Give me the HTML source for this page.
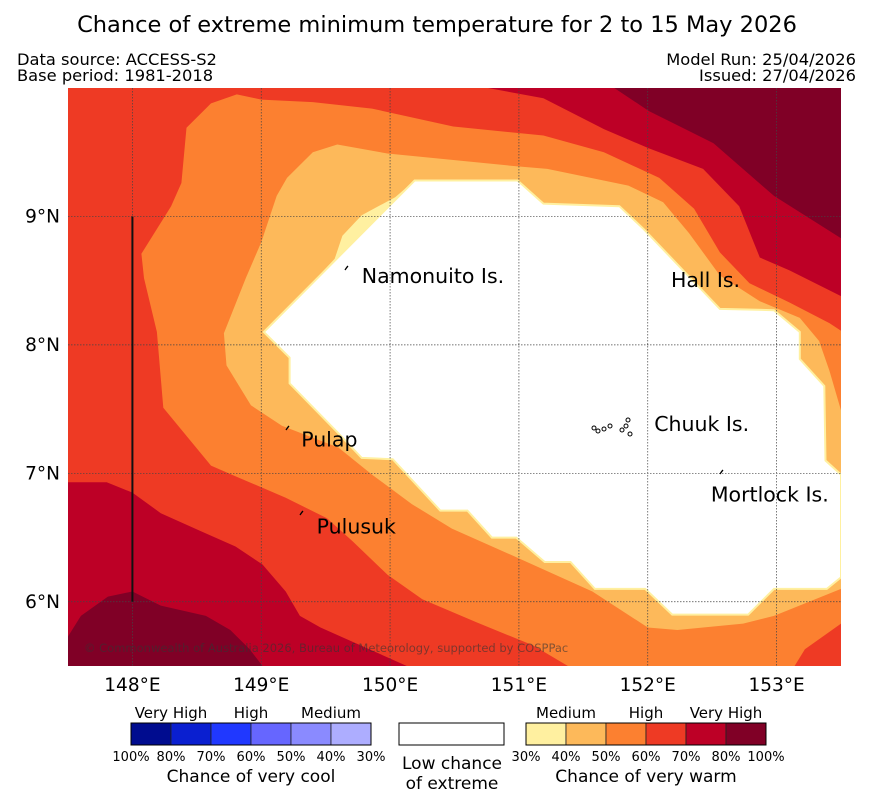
<!DOCTYPE html>
<html><head><meta charset="utf-8">
<style>
body{margin:0;background:#fff;font-family:"Liberation Sans","DejaVu Sans",sans-serif;}
svg{display:block}
text{font-family:"DejaVu Sans","Liberation Sans",sans-serif;}
</style></head>
<body>
<svg id="chart" width="873" height="804" viewBox="0 0 873 804">
<text x="437" y="32" text-anchor="middle" font-size="22.5">Chance of extreme minimum temperature for 2 to 15 May 2026</text>
<text x="17" y="65" font-size="16.3">Data source: ACCESS-S2</text>
<text x="17" y="81" font-size="16.3">Base period: 1981-2018</text>
<text x="856" y="65" font-size="16.3" text-anchor="end">Model Run: 25/04/2026</text>
<text x="856" y="81" font-size="16.3" text-anchor="end">Issued: 27/04/2026</text>
<defs><clipPath id="mapclip"><rect x="68" y="88" width="773" height="578"/></clipPath></defs>
<g id="map" clip-path="url(#mapclip)">
<rect x="68" y="88" width="773" height="578" fill="#ee3a24"/>
</g>
<g id="grid"></g>
<g id="axes"></g>
<g id="labels"></g>
<text x="84" y="652" font-size="11.5" fill="#333" fill-opacity="0.6">© Commonwealth of Australia 2026, Bureau of Meteorology, supported by COSPPac</text>
<g id="legend"></g>
</svg>
<script>
const lonMin=147.5, lonMax=153.5, latMin=5.5, latMax=10.0;
const lonTicks=[148,149,150,151,152,153];
const latTicks=[6,7,8,9];
const contourLevels=['70-80','80-100','70-80','80-100','50-60','40-50','30-40','low','60-70'];
const contourColors=['#bd0026','#800026','#bd0026','#800026','#fc8030','#fdb95a','#fff0a0','#ffffff','#ee3a24'];
const crimsonTop=[[150.76,10],[151.19,9.92],[151.66,9.68],[152.01,9.53],[152.43,9.37],[152.71,9.08],[152.87,8.68],[153.10,8.58],[153.5,8.38],[153.5,10]];
const maroonTop=[[151.74,10],[152.01,9.82],[152.51,9.57],[152.98,9.16],[153.5,8.83],[153.5,10]];
const crimsonBottom=[[147.5,6.93],[147.80,6.93],[148.0,6.85],[148.22,6.69],[148.53,6.55],[148.80,6.43],[149.01,6.29],[149.19,6.08],[149.30,5.89],[149.46,5.80],[150.13,5.5],[147.5,5.5]];
const maroonBottom=[[147.5,5.73],[147.60,5.89],[147.81,6.04],[148.0,6.08],[148.22,5.97],[148.57,5.89],[148.76,5.78],[148.91,5.63],[149.01,5.5],[147.5,5.5]];
const orange=[[148.42,9.69],[148.61,9.88],[148.81,9.95],[149.0,9.91],[149.40,9.89],[149.86,9.84],[150.49,9.70],[151.19,9.63],[151.66,9.50],[152.09,9.30],[152.36,9.06],[152.56,8.72],[152.79,8.48],[153.10,8.33],[153.41,8.17],[153.5,8.11],[153.5,5.5],[151.38,5.5],[151.11,5.66],[150.67,5.84],[150.25,6.02],[149.98,6.21],[149.71,6.47],[149.51,6.65],[149.19,6.81],[148.77,6.99],[148.61,7.06],[148.24,7.51],[148.19,8.10],[148.09,8.52],[148.07,8.71],[148.30,9.08],[148.38,9.26]];
const lightOrange=[[149.20,9.30],[149.40,9.50],[149.59,9.56],[149.98,9.49],[150.99,9.39],[151.22,9.37],[151.85,9.24],[152.12,9.11],[152.32,8.87],[152.56,8.54],[152.87,8.34],[153.18,8.21],[153.33,8.03],[153.41,7.80],[153.5,7.49],[153.5,6.10],[152.98,5.89],[152.74,5.83],[152.23,5.78],[152.0,5.80],[151.57,6.08],[150.95,6.36],[150.48,6.57],[150.17,6.76],[149.86,6.99],[149.60,7.20],[149.16,7.37],[148.92,7.53],[148.73,7.84],[148.71,8.09],[148.88,8.52],[149.0,8.80],[149.12,9.16]];
const paleYellow=[[150.19,9.28],[150.04,9.15],[149.78,9.01],[149.63,8.85],[149.57,8.67],[149.44,8.53]];
const whiteArea=[[150.19,9.28],[150.99,9.28],[151.19,9.10],[151.78,9.08],[151.97,8.90],[152.56,8.28],[152.98,8.27],[153.18,8.10],[153.18,7.89],[153.37,7.68],[153.38,7.10],[153.5,6.99],[153.5,6.19],[153.39,6.10],[152.98,6.10],[152.78,5.90],[152.19,5.90],[151.98,6.10],[151.59,6.10],[151.40,6.31],[151.20,6.31],[150.98,6.50],[150.79,6.50],[150.60,6.71],[150.39,6.71],[150.02,7.11],[149.78,7.12],[149.59,7.32],[149.22,7.70],[149.22,7.90],[149.02,8.10]];
const redBottomRight=[[153.5,5.83],[153.22,5.63],[153.14,5.5],[153.5,5.5]];
const islandNames=['Namonuito Is.','Hall Is.','Chuuk Is.','Pulap','Mortlock Is.','Pulusuk'];
const islandLon=[149.78,152.18,152.05,149.31,152.49,149.43];
const islandLat=[8.48,8.45,7.33,7.21,6.78,6.53];
const legendWarmLabels=['30%','40%','50%','60%','70%','80%','100%'];
const legendCoolLabels=['100%','80%','70%','60%','50%','40%','30%'];
const warmColors=['#fff0a0','#fdb95a','#fc8030','#ee3a24','#bd0026','#800026'];
const coolColors=['#000c8f','#0a1fd0','#2038ff','#6666ff','#8a8aff','#adadff'];

const X0=68,X1=841,Y0=88,Y1=666;
const xs=lon=>X0+(lon-lonMin)/(lonMax-lonMin)*(X1-X0);
const ys=lat=>Y1-(lat-latMin)/(latMax-latMin)*(Y1-Y0);
const NS='http://www.w3.org/2000/svg';
function mk(tag,attrs,parent){const e=document.createElementNS(NS,tag);for(const k in attrs)e.setAttribute(k,attrs[k]);parent.appendChild(e);return e;}
const map=document.getElementById('map');
const polys=[crimsonTop,maroonTop,crimsonBottom,maroonBottom,orange,lightOrange,paleYellow,whiteArea,redBottomRight];
polys.forEach((p,i)=>{
  const pts=p.map(q=>xs(q[0]).toFixed(1)+','+ys(q[1]).toFixed(1)).join(' ');
  const attrs={points:pts,fill:contourColors[i]};
  if(i===7){attrs.stroke='#fff0a0';attrs['stroke-width']='2';}
  const el=mk('polygon',attrs,map);
  
  
});
const grid=document.getElementById('grid');
lonTicks.forEach(l=>{const e=mk('line',{x1:xs(l),x2:xs(l),y1:Y0,y2:Y1,stroke:'#444','stroke-width':'0.7','stroke-dasharray':'1.5,1.5'},grid);

});
latTicks.forEach(l=>{const e=mk('line',{x1:X0,x2:X1,y1:ys(l),y2:ys(l),stroke:'#444','stroke-width':'0.7','stroke-dasharray':'1.5,1.5'},grid);

});
const vl=mk('line',{x1:xs(148),x2:xs(148),y1:ys(9),y2:ys(6),stroke:'#111','stroke-width':'2'},grid);


const axes=document.getElementById('axes');
lonTicks.forEach(l=>{const t=mk('text',{x:xs(l),y:691,'text-anchor':'middle','font-size':'18.5'},axes);t.textContent=l+'°E';

});
latTicks.forEach(l=>{const t=mk('text',{x:60,y:ys(l)+6,'text-anchor':'end','font-size':'18.5'},axes);t.textContent=l+'°N';

});
const lab=document.getElementById('labels');
islandNames.forEach((n,i)=>{const t=mk('text',{x:xs(islandLon[i]),y:ys(islandLat[i]),'font-size':'20.5'},lab);t.textContent=n;

});
[[345,270],[286,430],[300,515],[720,474]].forEach(p=>{const e=mk('path',{d:`M${p[0]} ${p[1]} q2 -3 3 -4`,stroke:'#000','stroke-width':'1.3',fill:'none'},lab);

});
[[594,428],[598,431],[604,429],[610,426],[622,430],[628,420],[630,434],[626,426]].forEach(p=>{const e=mk('circle',{cx:p[0],cy:p[1],r:2,fill:'none',stroke:'#000','stroke-width':'1'},lab);

});
const lg=document.getElementById('legend');
function bar(x0,colors,labels,name){
  colors.forEach((c,i)=>{const r=mk('rect',{x:x0+i*40,y:723,width:40,height:22,fill:c,stroke:'#222','stroke-width':'0.8'},lg);
  
  });
  mk('rect',{x:x0,y:723,width:240,height:22,fill:'none',stroke:'#000','stroke-width':'1'},lg);
  labels.forEach((l,i)=>{const t=mk('text',{x:x0+i*40,y:761,'text-anchor':'middle','font-size':'13'},lg);t.textContent=l;
  
  });
}
bar(131,coolColors,legendCoolLabels,'cool-legend');
bar(526,warmColors,legendWarmLabels,'warm-legend');
const wb=mk('rect',{x:399,y:723,width:105,height:22,fill:'#fff',stroke:'#000','stroke-width':'1'},lg);


[['Very High',171,718],['High',251,718],['Medium',331,718],['Medium',566,718],['High',646,718],['Very High',726,718],
 ['Chance of very cool',251,782],['Chance of very warm',646,782],['Low chance',452,769],['of extreme',452,789]].forEach(a=>{
  const fs=(a[1]===452||a[0].startsWith('Chance'))?17:15;
  const t=mk('text',{x:a[1],y:a[2],'text-anchor':'middle','font-size':fs},lg);t.textContent=a[0];
  
  
});
</script>
</body></html>
